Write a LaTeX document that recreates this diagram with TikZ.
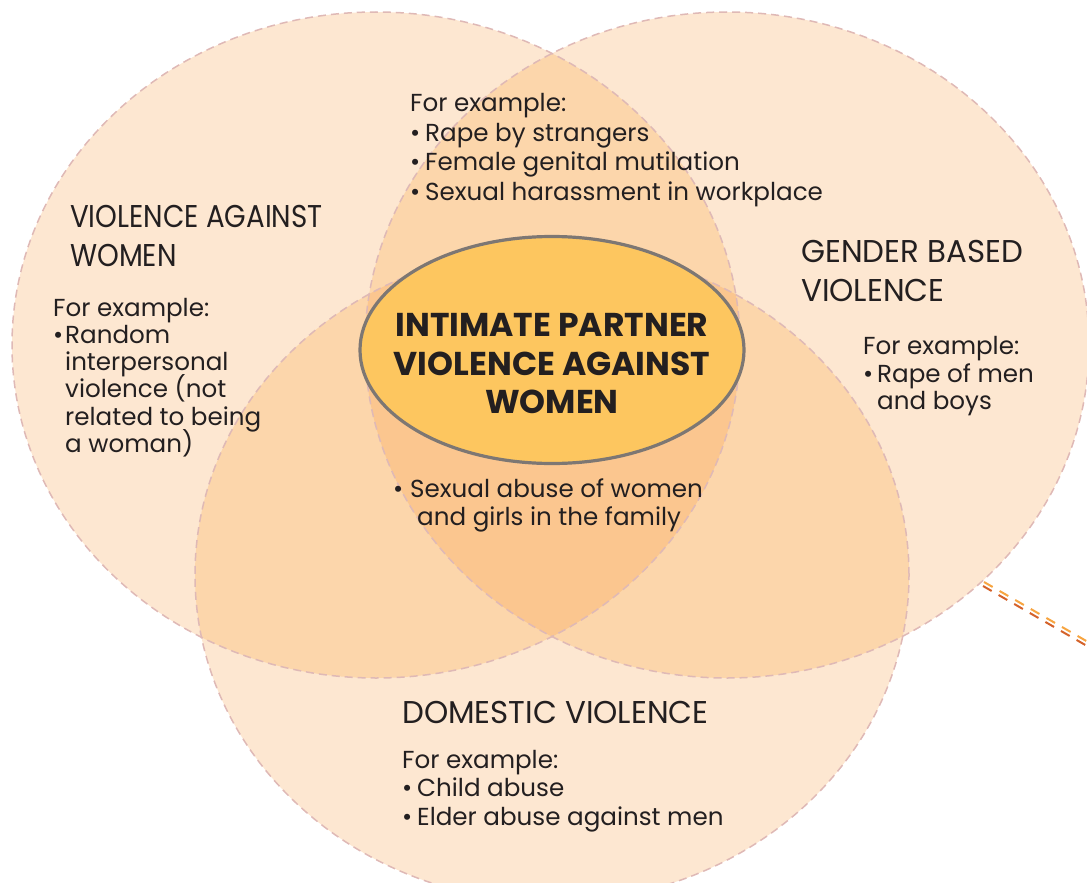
\documentclass[tikz,border=0pt]{standalone}
\usepackage{fontspec}
\setmainfont{Poppins}
\newfontfamily\titlefontnarrow[FakeStretch=0.88]{Poppins}
\newfontfamily\titlefont[FakeStretch=0.98]{Poppins}
\usetikzlibrary{shapes.geometric}
\definecolor{cone}{HTML}{FDE7D1}
\definecolor{ctwo}{HTML}{FCD6AB}
\definecolor{cthree}{HTML}{FBC68F}
\definecolor{edge}{HTML}{DFB9B6}
\definecolor{ellfill}{HTML}{FDC65F}
\definecolor{ellline}{HTML}{7D7773}
\definecolor{ink}{HTML}{231F20}
\definecolor{dorange}{HTML}{F7A541}
\definecolor{dred}{HTML}{D4622A}
\tikzset{
  bodytext/.style={anchor=base west, inner sep=0pt, text=ink, font=\fontsize{24.6}{29}\selectfont},
  titletext/.style={anchor=base west, inner sep=0pt, text=ink, font=\titlefont\fontsize{31.5}{38}\selectfont},
  titlenarrow/.style={anchor=base west, inner sep=0pt, text=ink, font=\titlefontnarrow\fontsize{31.5}{38}\selectfont},
  centertext/.style={anchor=base, inner sep=0pt, text=ink, font=\bfseries\fontsize{33}{38}\selectfont},
  outline/.style={draw=edge, line width=1.5pt, dash pattern=on 8pt off 5pt},
}
\newcommand{\bul}[1]{\makebox[#1][l]{•}}
\begin{document}
\begin{tikzpicture}[x=1pt, y=-1pt]
\useasboundingbox (0,0) rectangle (1087,883);
\clip (0,0) rectangle (1087,883);
\def\Lc{(376,345) ellipse [x radius=364pt, y radius=333pt]}
\def\Rc{(727,345) ellipse [x radius=362pt, y radius=333pt]}
\def\Bc{(552,575) ellipse [x radius=357pt, y radius=327pt]}
% single regions
\fill[cone] \Lc;
\fill[cone] \Rc;
\fill[cone] \Bc;
% double regions
\begin{scope}
  \clip \Lc;
  \fill[ctwo] \Rc;
  \fill[ctwo] \Bc;
\end{scope}
\begin{scope}
  \clip \Rc;
  \fill[ctwo] \Bc;
\end{scope}
% triple region
\begin{scope}
  \clip \Lc;
  \clip \Rc;
  \fill[cthree] \Bc;
\end{scope}
% outlines
\draw[outline] \Lc;
\draw[outline] \Rc;
\draw[outline] \Bc;
% orange double dashed line
\coordinate (da1) at (984,582);
\coordinate (da2) at (1095,646);
\coordinate (db1) at (983,586);
\coordinate (db2) at (1094,650);
\draw[dorange, line width=2pt, dash pattern=on 10pt off 8pt] (da1) -- (da2);
\draw[dred, line width=2pt, dash pattern=on 10pt off 8pt] (db1) -- (db2);
% central ellipse
\node[ellipse, draw=ellline, fill=ellfill, line width=3.2pt, minimum width=384pt, minimum height=227pt, inner sep=0pt] (ipv) at (552,350) {};
\node[centertext] (c1) at (552,336) {INTIMATE PARTNER};
\node[centertext] (c2) at (552,375) {VIOLENCE AGAINST};
\node[centertext] (c3) at (552,413) {WOMEN};
% top block
\node[bodytext] (t1) at (410,111) {For example:};
\node[bodytext] (t2) at (410,141) {\bul{15pt}Rape by strangers};
\node[bodytext] (t3) at (410,170) {\bul{15pt}Female genital mutilation};
\node[bodytext] (t4) at (410,200) {\bul{15pt}Sexual harassment in workplace};
% left block
\node[titlenarrow] (l1) at (70,227) {VIOLENCE AGAINST};
\node[titlenarrow] (l2) at (70,266) {WOMEN};
\node[bodytext] (l3) at (53,316) {For example:};
\node[bodytext] (l4) at (53,343) {\bul{12pt}Random};
\node[bodytext] (l5) at (65,370) {interpersonal};
\node[bodytext] (l6) at (65,397) {violence (not};
\node[bodytext] (l7) at (65,425) {related to being};
\node[bodytext] (l8) at (65,452) {a woman)};
% right block
\node[titletext] (r1) at (801,262) {GENDER BASED};
\node[titletext] (r2) at (801,301) {VIOLENCE};
\node[bodytext] (r3) at (863,354) {For example:};
\node[bodytext] (r4) at (863,382) {\bul{14pt}Rape of men};
\node[bodytext] (r5) at (877,409) {and boys};
% middle lower block
\node[bodytext] (m1) at (393,497) {\bul{17pt}Sexual abuse of women};
\node[bodytext] (m2) at (417,525) {and girls in the family};
% bottom block
\node[titletext] (b1) at (402,723) {DOMESTIC VIOLENCE};
\node[bodytext] (b2) at (402,768) {For example:};
\node[bodytext] (b3) at (402,796) {\bul{15pt}Child abuse};
\node[bodytext] (b4) at (402,825) {\bul{15pt}Elder abuse against men};
\end{tikzpicture}
\end{document}
